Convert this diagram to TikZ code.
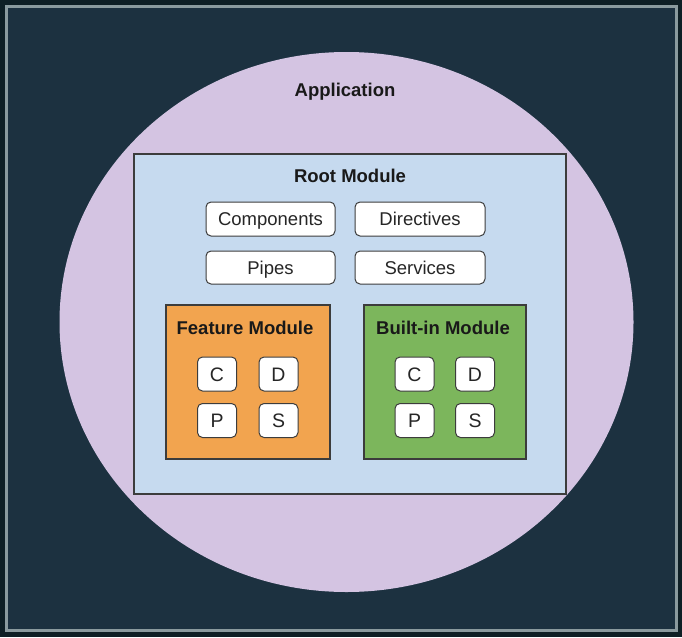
\documentclass[tikz,border=0pt]{standalone}
\usepackage{fontspec}
\setmainfont{Liberation Sans}
\usetikzlibrary{shapes.geometric}
\definecolor{outerbg}{HTML}{0E1F25}
\definecolor{innerbg}{HTML}{1C3140}
\definecolor{framec}{HTML}{8A9A9E}
\definecolor{lav}{HTML}{D4C4E2}
\definecolor{rootc}{HTML}{C6DAEF}
\definecolor{orangec}{HTML}{F2A44F}
\definecolor{greenc}{HTML}{7CB65C}
\definecolor{edgec}{HTML}{3C3C3C}
\begin{document}
\begin{tikzpicture}[x=1pt,y=-1pt,
  container/.style={draw=edgec,line width=1.2pt},
  itembox/.style={draw=edgec,fill=white,rounded corners=5pt,line width=1pt,font=\fontsize{18.5}{20}\selectfont,text=black!85,text height=13.3pt,text depth=0pt,inner sep=0pt},
  smallbox/.style={draw=edgec,fill=white,rounded corners=5pt,line width=1pt,minimum width=39pt,minimum height=34pt,font=\fontsize{19.5}{22}\selectfont,text=black!85,text height=14pt,text depth=0pt,inner sep=0pt},
  title/.style={font=\bfseries\fontsize{18.5}{20}\selectfont,text=black!90}]
\useasboundingbox (0,0) rectangle (682,637);
\fill[outerbg] (0,0) rectangle (682,637);
\draw[framec,fill=innerbg,line width=3pt] (6.5,6.5) rectangle (676.5,630.5);
% Application
\node[ellipse,fill=lav,minimum width=574pt,minimum height=540pt,inner sep=0pt] (app) at (346.5,322) {};
\node[title] (apptitle) at (345,92) {Application};
% Root module
\draw[container,fill=rootc] (134,154) rectangle (566,494);
\node[title] (roottitle) at (350,176) {Root Module};
\node[itembox,minimum width=129pt,minimum height=34pt] (comp) at (270.5,219) {Components};
\node[itembox,minimum width=130pt,minimum height=34pt] (dir) at (420,219) {Directives};
\node[itembox,minimum width=129pt,minimum height=33pt] (pipes) at (270.5,267.5) {Pipes};
\node[itembox,minimum width=130pt,minimum height=33pt] (serv) at (420,267.5) {Services};
% Feature module
\draw[container,fill=orangec] (166,305) rectangle (330,459);
\node[title] (feattitle) at (245,328) {Feature Module};
\node[smallbox] (fc) at (217,374) {C};
\node[smallbox] (fd) at (278.5,374) {D};
\node[smallbox] (fp) at (217,420.5) {P};
\node[smallbox] (fs) at (278.5,420.5) {S};
% Built-in module
\draw[container,fill=greenc] (364,305) rectangle (526,459);
\node[title] (builttitle) at (443,328) {Built-in Module};
\node[smallbox] (bc) at (414.5,374) {C};
\node[smallbox] (bd) at (475,374) {D};
\node[smallbox] (bp) at (414.5,420.5) {P};
\node[smallbox] (bs) at (475,420.5) {S};
\end{tikzpicture}
\end{document}
